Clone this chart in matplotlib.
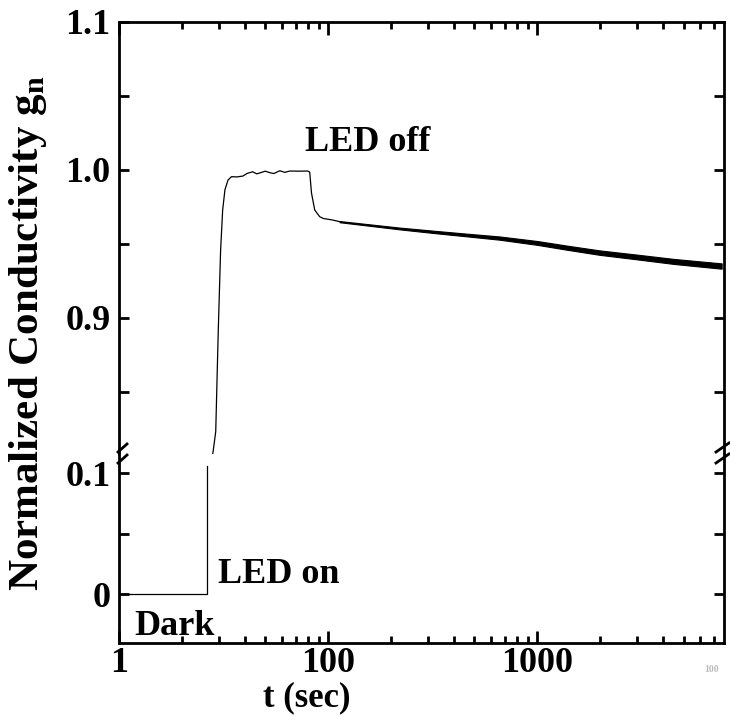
import matplotlib
matplotlib.use("Agg")
import matplotlib.pyplot as plt
from matplotlib.lines import Line2D
from matplotlib.ticker import FixedLocator, FixedFormatter, LogLocator, NullFormatter

plt.rcParams['font.family'] = ['Liberation Serif', 'DejaVu Serif']
plt.rcParams['font.weight'] = 'bold'
plt.rcParams['mathtext.fontset'] = 'custom'
plt.rcParams['mathtext.rm'] = 'Liberation Serif:bold'
plt.rcParams['mathtext.bf'] = 'Liberation Serif:bold'

# dark period and LED switch-on (lower panel)
dark_t = [10, 26.3, 26.3]
dark_g = [0.0, 0.0, 0.106]

# rise, plateau and fast drop after LED off (upper panel)
rise_t = [27.5, 28.2, 29.0, 29.8, 30.6, 31.3, 32.1, 33.2, 34.5, 36.5, 39.1, 41.0,
          43.6, 45.5, 47.1, 50.0, 52.6, 55.0, 58.7, 62.0, 65.5, 72.0, 79.8, 81.6,
          83.2, 86.2, 91.1, 95.0, 98.0, 105.0, 113.4]
rise_g = [0.800, 0.810, 0.823, 0.8897, 0.9457, 0.9728, 0.9865, 0.9930, 0.9953, 0.9951,
          0.9957, 0.9975, 0.9986, 0.9972, 0.9978, 0.9990, 0.9980, 0.9974, 0.9993, 0.9982,
          0.9991, 0.9990, 0.9991, 0.9984, 0.9843, 0.9728, 0.9682, 0.9670, 0.9667,
          0.9660, 0.9649]

# slow decay tail: centre and noise envelope
tail_t = [113.4, 160, 219, 330, 450, 659, 1000, 1400, 1978, 3000, 4500, 7600]
tail_g = [0.9649, 0.9625, 0.9603, 0.9578, 0.9560, 0.9538, 0.9505, 0.9472, 0.9440, 0.9410, 0.9380, 0.9349]
tail_w = [0.0004, 0.0005, 0.0006, 0.0008, 0.0009, 0.0011, 0.0013, 0.0014, 0.0015, 0.0016, 0.0017, 0.0018]

x_ticks = [10, 100, 1000]
x_labels = ['1', '100', '1000']
top_ticks = [0.9, 1.0, 1.1]
top_labels = ['0.9', '1.0', '1.1']
bot_ticks = [0.0, 0.1]
bot_labels = ['0', '0.1']

W, H = 730, 716
fig = plt.figure(figsize=(W / 100, H / 100), dpi=100)
L, R, T, M, B = 119, 724, 21.7, 454, 643
ax_top = fig.add_axes([L / W, 1 - M / H, (R - L) / W, (M - T) / H])
ax_bot = fig.add_axes([L / W, 1 - B / H, (R - L) / W, (B - M) / H], sharex=ax_top)

ax_bot.plot(dark_t, dark_g, color='black', lw=0.9)
ax_top.plot(rise_t, rise_g, color='black', lw=0.9)
lo = [g - w for g, w in zip(tail_g, tail_w)]
hi = [g + w for g, w in zip(tail_g, tail_w)]
ax_top.fill_between(tail_t, lo, hi, color='black', lw=0.8)

ax_top.set_xscale('log')
ax_top.set_xlim(10, 7800)
ax_top.set_ylim(0.8079, 1.1)
ax_bot.set_ylim(-0.0402, 0.116)

for ax in (ax_top, ax_bot):
    for s in ax.spines.values():
        s.set_linewidth(2)
    ax.xaxis.set_major_locator(FixedLocator(x_ticks))
    ax.xaxis.set_minor_locator(LogLocator(base=10, subs=range(2, 10)))
    ax.xaxis.set_minor_formatter(NullFormatter())
    ax.tick_params(which='major', direction='in', length=9, width=2, labelsize=26, pad=6)
    ax.tick_params(which='minor', direction='in', length=5, width=2)
    ax.tick_params(axis='y', which='both', length=7, left=True, right=True)

ax_top.spines['bottom'].set_visible(False)
ax_bot.spines['top'].set_visible(False)
ax_top.tick_params(axis='x', which='both', top=True, bottom=False, labelbottom=False)
ax_bot.tick_params(axis='x', which='both', top=False, bottom=True, pad=3)
ax_bot.xaxis.set_major_formatter(FixedFormatter(x_labels))

ax_top.yaxis.set_major_locator(FixedLocator(top_ticks))
ax_top.yaxis.set_major_formatter(FixedFormatter(top_labels))
ax_top.yaxis.set_minor_locator(FixedLocator([0.85, 0.95, 1.05]))
ax_bot.yaxis.set_major_locator(FixedLocator(bot_ticks))
ax_bot.yaxis.set_major_formatter(FixedFormatter(bot_labels))
ax_bot.yaxis.set_minor_locator(FixedLocator([0.05]))

fig.text(307 / W, 1 - 698 / H, 't (sec)', fontsize=25, fontweight='bold',
         ha='center', va='center')
fig.text(28 / W, 1 - 333 / H, 'Normalized Conductivity g$_\\mathbf{n}$', rotation=90,
         fontsize=31, fontweight='bold', ha='center', va='center')

ax_top.text(77.3, 1.0187, 'LED off', fontsize=26, fontweight='bold', ha='left', va='center')
ax_bot.text(29.7, 0.016, 'LED on', fontsize=26, fontweight='bold', ha='left', va='center')
ax_bot.text(11.9, -0.0262, 'Dark', fontsize=26, fontweight='bold', ha='left', va='center')
fig.text(712 / W, 1 - 669 / H, '100', fontsize=7, color='#bbbbbb', ha='center', va='center')

# axis break marks
for yb in (448, 459):
    fig.add_artist(Line2D([118 / W, 127 / W], [1 - (yb + 4) / H, 1 - (yb - 4) / H],
                          color='black', lw=2))
    fig.add_artist(Line2D([716 / W, 729 / W], [1 - (yb + 4) / H, 1 - (yb - 5) / H],
                          color='black', lw=2))

fig.savefig('out.png', dpi=100)
